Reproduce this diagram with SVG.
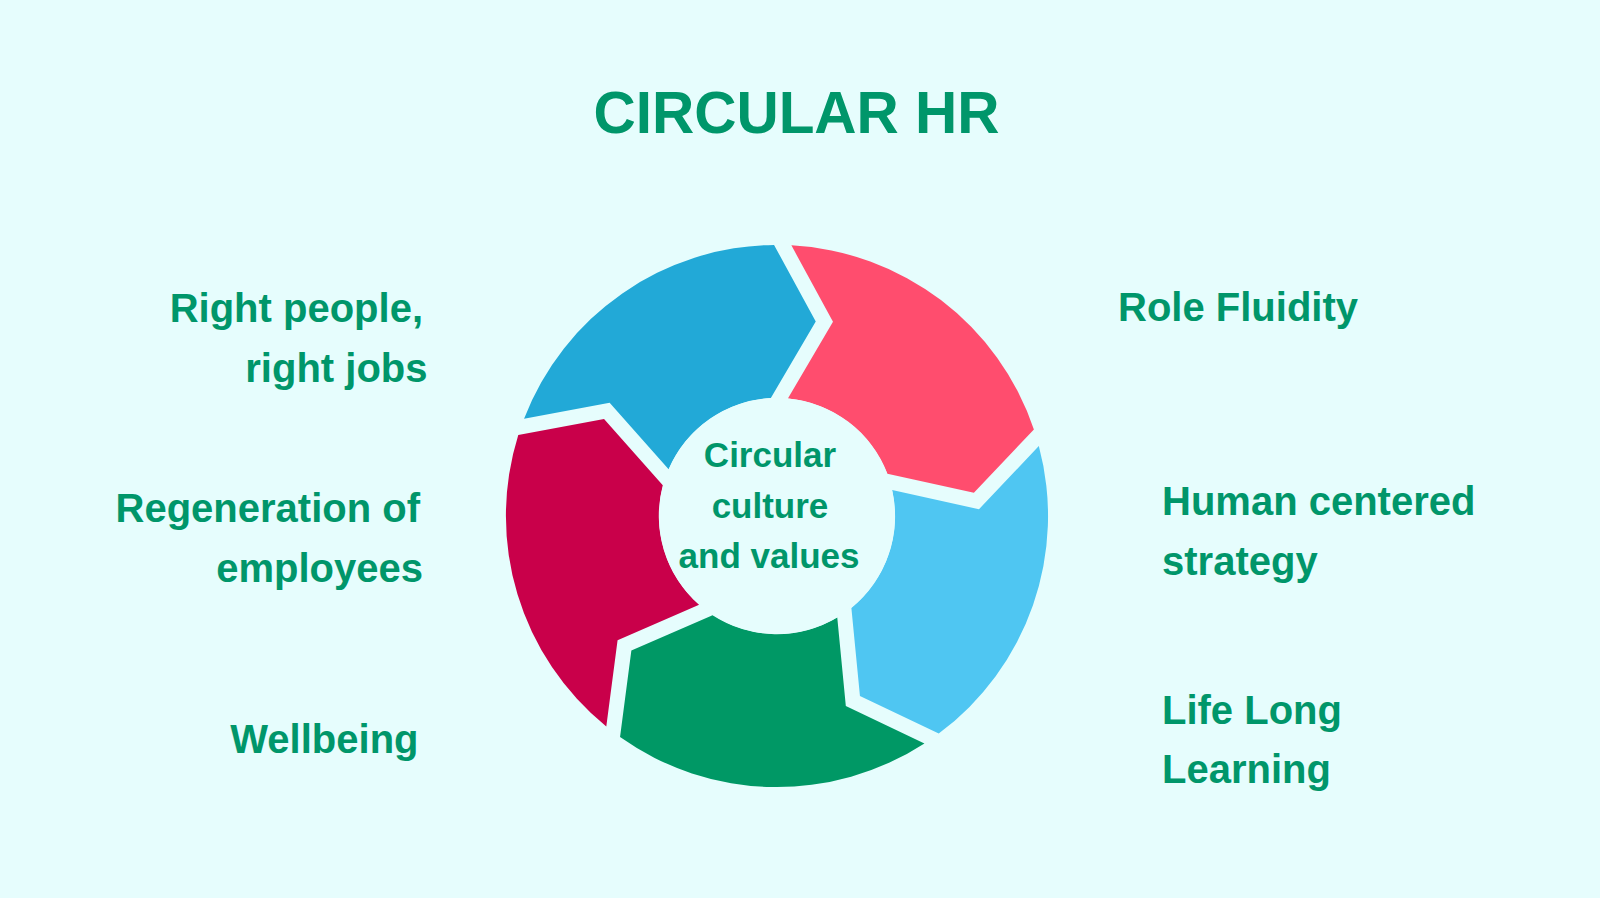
<svg xmlns="http://www.w3.org/2000/svg" xmlns:xlink="http://www.w3.org/1999/xlink" width="1600" height="898" viewBox="0 0 1600 898">
  <style>
    .lbl { font-family: "Liberation Sans", Arial, Helvetica, sans-serif; font-weight: bold; fill: #00966A; }
    .title { font-size: 58.5px; }
    .side { font-size: 40px; }
    .core { font-size: 35px; }
  </style>
  <defs>
    <path id="seg" d="M 791.38 245.37 A 271 271 0 0 1 1033.91 429.42 L 973.90 492.76 L 887.41 473.66 A 118 118 0 0 0 787.89 398.49 L 832.99 321.83 Z"/>
  </defs>
  <rect x="0" y="0" width="1600" height="898" fill="#E6FDFD"/>

  <g id="title">
    <text class="lbl title" x="796.5" y="133" text-anchor="middle">CIRCULAR HR</text>
  </g>

  <g id="segment-role-fluidity">
    <use xlink:href="#seg" href="#seg" fill="#FF4D6E"/>
  </g>
  <g id="segment-human-centered">
    <use xlink:href="#seg" href="#seg" fill="#4FC6F2" transform="rotate(72 777 516)"/>
  </g>
  <g id="segment-life-long-learning">
    <use xlink:href="#seg" href="#seg" fill="#009865" transform="rotate(144 777 516)"/>
  </g>
  <g id="segment-regeneration">
    <use xlink:href="#seg" href="#seg" fill="#C9004A" transform="rotate(216 777 516)"/>
  </g>
  <g id="segment-right-people">
    <use xlink:href="#seg" href="#seg" fill="#22A9D7" transform="rotate(288 777 516)"/>
  </g>

  <g id="core">
    <circle cx="777" cy="516" r="118" fill="#E6FDFD"/>
    <text class="lbl core" x="770" y="467" text-anchor="middle">Circular</text>
    <text class="lbl core" x="770" y="518" text-anchor="middle">culture</text>
    <text class="lbl core" x="769" y="568" text-anchor="middle">and values</text>
  </g>

  <g id="label-right-people">
    <text class="lbl side" x="423" y="322" text-anchor="end">Right people,</text>
    <text class="lbl side" x="427.5" y="382" text-anchor="end">right jobs</text>
  </g>
  <g id="label-regeneration">
    <text class="lbl side" x="420" y="522" text-anchor="end">Regeneration of</text>
    <text class="lbl side" x="423" y="582" text-anchor="end">employees</text>
  </g>
  <g id="label-wellbeing">
    <text class="lbl side" x="418.5" y="753" text-anchor="end">Wellbeing</text>
  </g>
  <g id="label-role-fluidity">
    <text class="lbl side" x="1118" y="321">Role Fluidity</text>
  </g>
  <g id="label-human-centered">
    <text class="lbl side" x="1162" y="515">Human centered</text>
    <text class="lbl side" x="1162" y="575">strategy</text>
  </g>
  <g id="label-life-long-learning">
    <text class="lbl side" x="1162" y="724">Life Long</text>
    <text class="lbl side" x="1162" y="783">Learning</text>
  </g>

  <g id="connectors"></g>
</svg>
